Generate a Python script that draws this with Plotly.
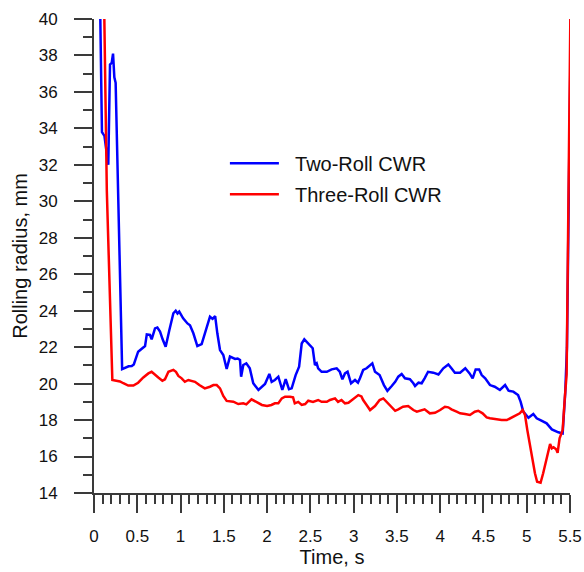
import plotly.graph_objects as go

# Rolling radius vs. time for the two cross-wedge-rolling (CWR) setups
time_two_roll = [
    0.070, 0.092, 0.105, 0.120, 0.165, 0.185, 0.205, 0.220, 0.235, 0.250,
    0.325, 0.358, 0.400, 0.436, 0.460, 0.510, 0.590, 0.610, 0.647, 0.666,
    0.705, 0.732, 0.763, 0.793, 0.828, 0.871, 0.917, 0.944, 0.965, 0.985,
    1.030, 1.080, 1.109, 1.148, 1.194, 1.244, 1.302, 1.340, 1.370, 1.400,
    1.425, 1.456, 1.494, 1.533, 1.571, 1.630, 1.660, 1.687, 1.700, 1.725,
    1.760, 1.800, 1.840, 1.900, 1.976, 2.026, 2.053, 2.090, 2.130, 2.176,
    2.215, 2.253, 2.284, 2.330, 2.370, 2.400, 2.430, 2.457, 2.496, 2.527,
    2.553, 2.573, 2.590, 2.630, 2.690, 2.746, 2.804, 2.840, 2.870, 2.900,
    2.930, 2.970, 3.016, 3.050, 3.073, 3.110, 3.150, 3.190, 3.216, 3.247,
    3.300, 3.350, 3.390, 3.440, 3.480, 3.516, 3.555, 3.593, 3.650, 3.690,
    3.710, 3.750, 3.786, 3.820, 3.860, 3.920, 3.980, 4.036, 4.094, 4.130,
    4.170, 4.230, 4.290, 4.340, 4.375, 4.410, 4.450, 4.480, 4.520, 4.575,
    4.630, 4.690, 4.750, 4.790, 4.845, 4.900, 4.930, 4.960, 5.020, 5.076,
    5.115, 5.170, 5.230, 5.290, 5.365, 5.415, 5.445, 5.465, 5.512,
]
radius_two_roll = [
    41.0, 33.8, 33.7, 33.6, 32.0, 37.5, 37.6, 38.1, 36.8, 36.5,
    20.8, 20.87, 20.95, 20.97, 21.05, 21.75, 22.06, 22.70, 22.67, 22.43,
    23.03, 23.08, 22.85, 22.43, 22.02, 22.94, 23.86, 24.0, 23.85, 23.95,
    23.58, 23.3, 23.2, 22.76, 22.06, 22.17, 23.03, 23.67, 23.55, 23.7,
    22.76, 21.84, 21.57, 20.8, 21.48, 21.35, 21.38, 21.3, 20.38, 21.02,
    21.11, 20.84, 20.02, 19.65, 19.98, 20.53, 20.1, 20.2, 20.38, 19.65,
    20.24, 19.69, 19.74, 20.47, 20.93, 22.2, 22.43, 22.3, 22.12, 21.94,
    21.02, 21.11, 20.84, 20.65, 20.65, 20.78, 20.84, 20.65, 20.24, 20.56,
    20.65, 20.02, 20.2, 20.05, 20.3, 20.75, 20.84, 21.02, 21.11, 20.65,
    20.47, 19.92, 19.6, 19.87, 20.1, 20.38, 20.53, 20.29, 20.24, 20.02,
    19.87, 20.05, 20.02, 20.29, 20.65, 20.6, 20.5, 20.84, 21.05, 20.84,
    20.6, 20.6, 20.84, 20.56, 20.29, 20.78, 20.78, 20.47, 20.29, 19.92,
    19.83, 19.65, 19.92, 19.61, 19.56, 19.37, 19.0, 18.46, 18.13, 18.33,
    18.1, 17.97, 17.82, 17.49, 17.33, 17.27, 19.5, 22.0, 40.5,
]

time_three_roll = [
    0.118, 0.148, 0.212, 0.270, 0.300, 0.339, 0.396, 0.455, 0.510, 0.570,
    0.628, 0.666, 0.705, 0.743, 0.790, 0.820, 0.860, 0.917, 0.947, 0.975,
    1.013, 1.050, 1.090, 1.130, 1.167, 1.217, 1.280, 1.340, 1.380, 1.418,
    1.456, 1.494, 1.533, 1.610, 1.667, 1.725, 1.760, 1.820, 1.880, 1.940,
    2.000, 2.050, 2.090, 2.130, 2.170, 2.207, 2.265, 2.300, 2.320, 2.360,
    2.400, 2.440, 2.476, 2.530, 2.590, 2.630, 2.690, 2.727, 2.785, 2.820,
    2.860, 2.900, 2.940, 2.977, 3.016, 3.054, 3.090, 3.110, 3.150, 3.190,
    3.247, 3.300, 3.343, 3.380, 3.440, 3.480, 3.516, 3.570, 3.630, 3.690,
    3.730, 3.786, 3.820, 3.880, 3.940, 4.000, 4.055, 4.094, 4.130, 4.190,
    4.230, 4.287, 4.344, 4.400, 4.440, 4.490, 4.537, 4.575, 4.650, 4.710,
    4.770, 4.826, 4.884, 4.920, 4.953, 4.980, 5.007, 5.040, 5.070, 5.095,
    5.120, 5.160, 5.190, 5.230, 5.270, 5.290, 5.310, 5.340, 5.357, 5.380,
    5.415, 5.441, 5.461, 5.505,
]
radius_three_roll = [
    40.5, 30.6, 20.2, 20.14, 20.12, 20.02, 19.89, 19.89, 20.05, 20.34,
    20.56, 20.65, 20.47, 20.34, 20.16, 20.24, 20.65, 20.75, 20.65, 20.42,
    20.29, 20.1, 20.2, 20.16, 20.1, 19.92, 19.74, 19.83, 19.92, 19.92,
    19.74, 19.32, 19.05, 19.01, 18.88, 18.92, 18.86, 19.14, 19.0, 18.83,
    18.77, 18.83, 18.92, 18.92, 19.19, 19.28, 19.28, 19.25, 18.92, 19.0,
    18.83, 18.88, 19.06, 19.0, 19.1, 19.0, 19.0, 19.1, 19.19, 19.0,
    19.1, 18.92, 18.95, 19.1, 19.25, 19.37, 19.3, 19.1, 18.83, 18.55,
    18.77, 19.1, 19.19, 19.0, 18.73, 18.51, 18.59, 18.73, 18.77, 18.55,
    18.46, 18.55, 18.59, 18.37, 18.4, 18.55, 18.73, 18.7, 18.59, 18.46,
    18.37, 18.33, 18.28, 18.46, 18.51, 18.37, 18.15, 18.1, 18.04, 18.0,
    18.0, 18.15, 18.28, 18.37, 18.55, 18.28, 17.45, 16.54, 15.8, 15.08,
    14.62, 14.56, 15.08, 15.9, 16.69, 16.45, 16.51, 16.4, 16.21, 17.0,
    17.45, 19.28, 20.5, 40.5,
]

series_names = ["Two-Roll CWR", "Three-Roll CWR"]
x_range = [0, 5.5]
y_range = [14, 40]

FONT = "Liberation Sans, Arial, sans-serif"
AXIS_COLOR = "#3a3a3a"
TEXT_COLOR = "#111111"
LEGEND_PAD = "\u00a0\u00a0"  # small gap between legend line and label

fig = go.Figure()
fig.add_trace(go.Scatter(
    x=time_two_roll, y=radius_two_roll, mode="lines",
    name=LEGEND_PAD + series_names[0],
    line=dict(color="#0000ff", width=2.5), legendgroup="a",
))
fig.add_trace(go.Scatter(
    x=time_three_roll, y=radius_three_roll, mode="lines",
    name=LEGEND_PAD + series_names[1],
    line=dict(color="#ff0000", width=2.5), legendgroup="b",
))

axis_common = dict(
    showline=True, linecolor=AXIS_COLOR, linewidth=1.8,
    ticks="outside", ticklen=18, tickwidth=1.8, tickcolor=AXIS_COLOR,
    showgrid=False, zeroline=False, automargin=False,
    tickfont=dict(family=FONT, size=17, color=TEXT_COLOR),
)

fig.update_xaxes(
    range=x_range, dtick=0.5, tick0=0,
    minor=dict(ticks="outside", ticklen=9, tickwidth=1.8, tickcolor=AXIS_COLOR,
               dtick=0.1, showgrid=False),
    title=dict(text="Time, s", font=dict(family=FONT, size=20, color=TEXT_COLOR), standoff=2),
    ticklabelstandoff=9,
    **axis_common,
)
fig.update_yaxes(
    range=y_range, dtick=2, tick0=14,
    minor=dict(ticks="outside", ticklen=9, tickwidth=1.8, tickcolor=AXIS_COLOR,
               dtick=1, showgrid=False),
    title=dict(text="Rolling radius, mm", font=dict(family=FONT, size=20, color=TEXT_COLOR), standoff=6),
    ticklabelstandoff=13,
    **axis_common,
)

fig.update_layout(
    width=584, height=572,
    margin=dict(l=94, r=14, t=19, b=79),
    paper_bgcolor="white", plot_bgcolor="white",
    font=dict(family=FONT, color=TEXT_COLOR),
    legend=dict(
        x=0.275, y=0.737, xanchor="left", yanchor="top",
        bgcolor="rgba(0,0,0,0)", borderwidth=0,
        font=dict(family=FONT, size=20, color=TEXT_COLOR),
        itemwidth=49, tracegroupgap=2,
    ),
    showlegend=True,
)

fig.write_html("out.html")
